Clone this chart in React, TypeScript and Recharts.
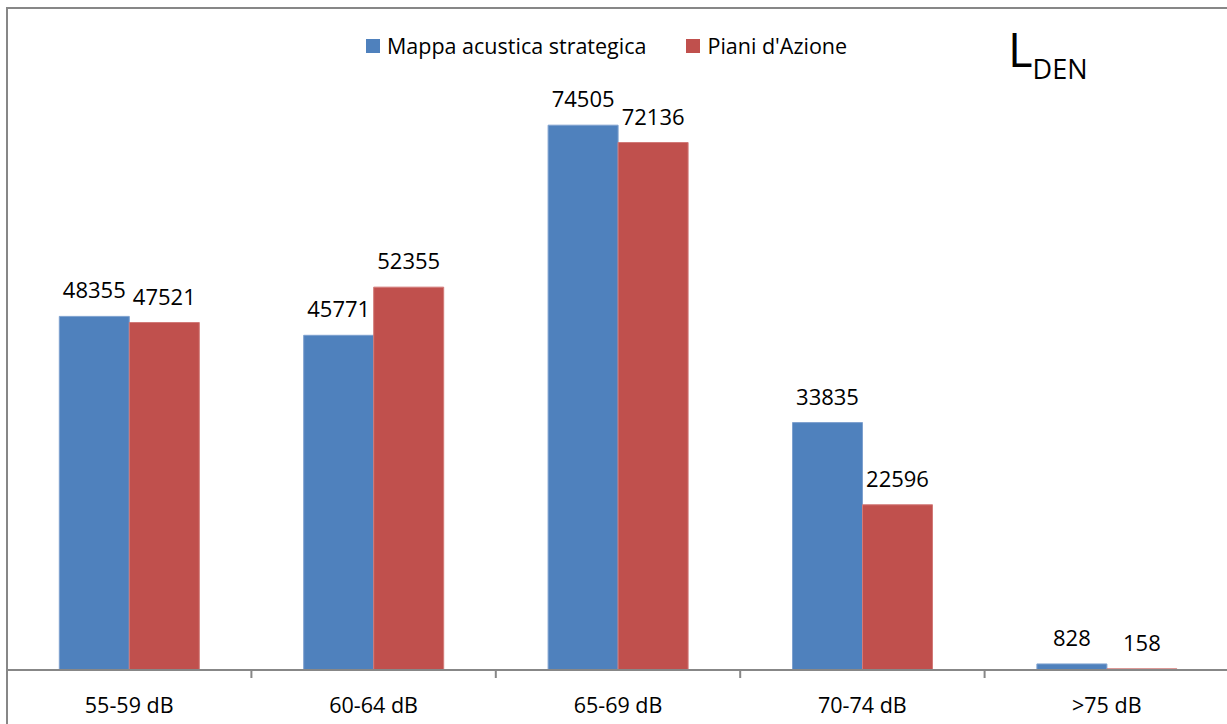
import React from 'react';
import { BarChart, Bar, XAxis, YAxis, LabelList } from 'recharts';

// Exposed population per noise band (Lden)
const categories = ['55-59 dB', '60-64 dB', '65-69 dB', '70-74 dB', '>75 dB'];
const mappaValues = [48355, 45771, 74505, 33835, 828];
const pianiValues = [47521, 52355, 72136, 22596, 158];
const seriesNames = ['Mappa acustica strategica', "Piani d'Azione"];
const seriesColors = ['#4F81BD', '#C0504D'];
const yDomain: [number, number] = [0, 80000];

const data = categories.map((category, i) => ({
  category,
  mappa: mappaValues[i],
  piani: pianiValues[i],
}));

const FONT = '"Open Sans", sans-serif';
const GRID = '#878787';

// Category label centred under the group, tick mark on the band boundary
const CategoryTick = (props: any) => {
  const { x, y, payload } = props;
  const half = payload && payload.offset != null ? payload.offset : 0;
  return (
    <g>
      <line x1={x + half} x2={x + half} y1={y} y2={y + 8} stroke={GRID} strokeWidth={2} />
      <text x={x} y={y + 43} textAnchor="middle" fill="#000" fontSize={21.5} fontFamily={FONT}>
        {payload.value}
      </text>
    </g>
  );
};

const Legendbox = () => (
  <div
    style={{
      position: 'absolute',
      left: 366,
      top: 32,
      display: 'flex',
      alignItems: 'center',
      fontFamily: FONT,
      fontSize: 21.5,
      color: '#000',
      whiteSpace: 'nowrap',
      lineHeight: '28px',
    }}
  >
    {seriesNames.map((name, i) => (
      <div key={name} style={{ display: 'flex', alignItems: 'center', marginRight: i === 0 ? 40 : 0 }}>
        <span style={{ width: 14, height: 14, background: seriesColors[i], display: 'inline-block', marginRight: 7 }} />
        <span>{name}</span>
      </div>
    ))}
  </div>
);

export default function App() {
  return (
    <div
      style={{
        position: 'absolute',
        left: 0,
        top: 0,
        width: 1227,
        height: 724,
        overflow: 'hidden',
        background: '#fff',
      }}
    >
      <div
        style={{
          position: 'absolute',
          left: 6,
          top: 7,
          width: 1300,
          height: 800,
          borderLeft: `2px solid ${GRID}`,
          borderTop: `2px solid ${GRID}`,
        }}
      />
      <div style={{ position: 'absolute', left: 0, top: 0 }}>
        <BarChart
          width={1227}
          height={724}
          data={data}
          margin={{ top: 85, right: -2, bottom: 0, left: 7 }}
          barCategoryGap="21.4%"
          barGap={0}
        >
          <XAxis
            dataKey="category"
            height={54}
            axisLine={{ stroke: GRID, strokeWidth: 2 }}
            tickLine={false}
            tickSize={0}
            tickMargin={0}
            interval={0}
            tick={<CategoryTick />}
          />
          <YAxis hide domain={yDomain} />
          <Bar dataKey="mappa" name={seriesNames[0]} fill={seriesColors[0]} stroke="#7ea1cf" strokeWidth={1} isAnimationActive={false}>
            <LabelList dataKey="mappa" position="top" offset={18} fill="#000" fontSize={22} fontFamily={FONT} />
          </Bar>
          <Bar dataKey="piani" name={seriesNames[1]} fill={seriesColors[1]} stroke="#d27a78" strokeWidth={1} isAnimationActive={false}>
            <LabelList dataKey="piani" position="top" offset={18} fill="#000" fontSize={22} fontFamily={FONT} />
          </Bar>
        </BarChart>
      </div>
      <Legendbox />
      <svg width={1227} height={724} style={{ position: 'absolute', left: 0, top: 0, pointerEvents: 'none' }}>
        <text x={1008} y={67} fontSize={47} fontFamily={FONT} fill="#000">
          L
          <tspan dy={12} fontSize={27}>DEN</tspan>
        </text>
      </svg>
    </div>
  );
}
